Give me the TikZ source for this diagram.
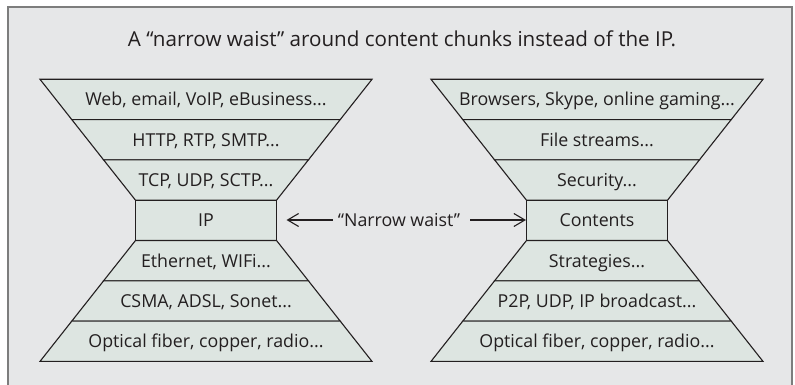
\documentclass[tikz,border=0pt]{standalone}
\usepackage{fontspec}
\setmainfont{Open Sans}
\usetikzlibrary{arrows.meta}
\definecolor{bgc}{RGB}{230,231,232}
\definecolor{layc}{RGB}{221,229,225}
\definecolor{framec}{RGB}{125,125,125}
\definecolor{inkc}{RGB}{35,31,32}
\newcommand\funlayer[6]{%
  \pgfmathsetmacro\ya{79.3+40.3*#2}%
  \pgfmathsetmacro\yb{\ya+40.3}%
  \pgfmathsetmacro\ym{\ya+20.15+6.4}%
  \draw[layer] ({#1-#3},\ya) -- ({#1+#3},\ya) -- ({#1+#4},\yb) -- ({#1-#4},\yb) -- cycle;
  \node[lbl,anchor=base] (#5) at (#1,\ym) {#6};}
\begin{document}
\begin{tikzpicture}[x=1pt,y=-1pt,
  layer/.style={fill=layc,draw=inkc,line width=1.1pt},
  lbl/.style={font=\fontsize{17.8}{21}\selectfont,text=inkc,inner sep=0pt},
  boxlayer/.style={layer,lbl,minimum width=141pt,minimum height=40.3pt},
  arr/.style={draw=inkc,line width=1.1pt,-{Straight Barb[length=11pt,width=13pt,line width=1.1pt]}}]
\useasboundingbox (0,0) rectangle (795,385);
\fill[bgc] (8,7) rectangle (792,392);
\draw[framec,line width=1.5pt] (8,392) -- (8,7) -- (792,7) -- (792,392);
\node[font=\fontsize{20.6}{24}\selectfont,text=inkc,inner sep=0pt,anchor=base] (title) at (402,46.7)
  {A “narrow waist” around content chunks instead of the IP.};
% left funnel
\funlayer{206}{0}{166}{134.2}{l1}{Web, email, VoIP, eBusiness...}
\funlayer{206}{1}{134.2}{102.4}{l2}{HTTP, RTP, SMTP...}
\funlayer{206}{2}{102.4}{70.5}{l3}{TCP, UDP, SCTP...}
\node[boxlayer] (ip) at (206,220.45) {IP};
\funlayer{206}{4}{70.5}{102.4}{l5}{Ethernet, WIFi...}
\funlayer{206}{5}{102.4}{134.2}{l6}{CSMA, ADSL, Sonet...}
\funlayer{206}{6}{134.2}{166}{l7}{Optical fiber, copper, radio...}
% right funnel
\funlayer{597}{0}{166}{134.2}{r1}{Browsers, Skype, online gaming...}
\funlayer{597}{1}{134.2}{102.4}{r2}{File streams...}
\funlayer{597}{2}{102.4}{70.5}{r3}{Security...}
\node[boxlayer] (ct) at (597,220.45) {Contents};
\funlayer{597}{4}{70.5}{102.4}{r5}{Strategies...}
\funlayer{597}{5}{102.4}{134.2}{r6}{P2P, UDP, IP broadcast...}
\funlayer{597}{6}{134.2}{166}{r7}{Optical fiber, copper, radio...}
% narrow waist
\node[lbl] (nw) at (399,220) {“Narrow waist”};
\draw[arr,shorten <=5pt,shorten >=9.5pt] (nw.west) -- (ip.east |- nw.west);
\draw[arr,shorten <=10pt] (nw.east) -- (ct.west |- nw.east);
\end{tikzpicture}
\end{document}
